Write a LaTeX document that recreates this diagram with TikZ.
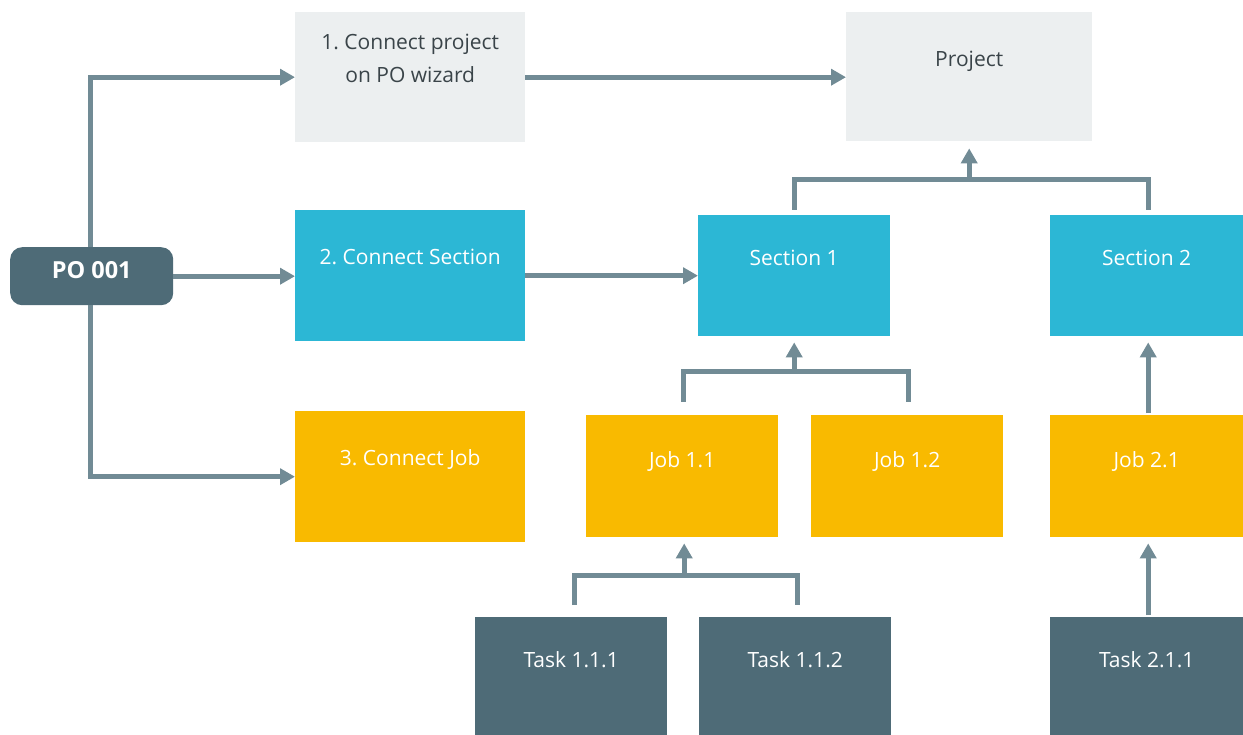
\documentclass[tikz,border=0pt]{standalone}
\usepackage{fontspec}
\setmainfont{Open Sans}
\usetikzlibrary{arrows.meta}
\frenchspacing
\definecolor{lightbox}{HTML}{ECEFF0}
\definecolor{cyanbox}{HTML}{2CB7D5}
\definecolor{yellowbox}{HTML}{F9BA00}
\definecolor{slatebox}{HTML}{4E6B77}
\definecolor{linec}{HTML}{718B95}
\definecolor{darktext}{HTML}{3A4449}
\begin{document}
\begin{tikzpicture}[x=1pt,y=-1pt,
  box/.style={anchor=north west, inner sep=0pt, align=center,
    font=\fontsize{21}{33}\selectfont\frenchspacing},
  graybox/.style={box, fill=lightbox, text=darktext},
  cyanb/.style={box, fill=cyanbox, text=white},
  yellowb/.style={box, fill=yellowbox, text=white},
  slateb/.style={box, fill=slatebox, text=white},
  conn/.style={draw=linec, line width=5pt},
  arr/.style={conn, -{Triangle[length=15pt,width=16pt]}},
]
\useasboundingbox (0,0) rectangle (1243,735);

% column 1
\node[graybox, minimum width=230pt, text height=70.5pt, text depth=59.5pt] (c1) at (295,12) {1. Connect project\\on PO wizard};
\node[cyanb, minimum width=230pt, text height=54.5pt, text depth=76.5pt] (c2) at (295,210) {2. Connect Section};
\node[yellowb, minimum width=230pt, text height=54.5pt, text depth=76.5pt] (c3) at (295,411) {3. Connect Job};

% PO
\node[anchor=north west, inner sep=0pt, fill=slatebox, text=white, rounded corners=12pt,
  minimum width=163pt, text height=31pt, text depth=27pt,
  font=\fontsize{23.5}{28}\selectfont\bfseries] (po) at (10,247) {PO 001};

% hierarchy
\node[graybox, minimum width=246pt, text height=54.5pt, text depth=74.5pt] (proj) at (846,12) {Project};
\node[cyanb, minimum width=192pt, text height=50.5pt, text depth=70.5pt] (s1) at (698,215) {Section 1};
\node[cyanb, minimum width=193pt, text height=50.5pt, text depth=70.5pt] (s2) at (1050,215) {Section 2};
\node[yellowb, minimum width=192pt, text height=52.5pt, text depth=69.5pt] (j11) at (586,415) {Job 1.1};
\node[yellowb, minimum width=192pt, text height=52.5pt, text depth=69.5pt] (j12) at (811,415) {Job 1.2};
\node[yellowb, minimum width=193pt, text height=52.5pt, text depth=69.5pt] (j21) at (1050,415) {Job 2.1};
\node[slateb, minimum width=192pt, text height=50.5pt, text depth=67.5pt] (t1) at (475,617) {Task 1.1.1};
\node[slateb, minimum width=192pt, text height=50.5pt, text depth=67.5pt] (t2) at (699,617) {Task 1.1.2};
\node[slateb, minimum width=193pt, text height=50.5pt, text depth=67.5pt] (t3) at (1050,617) {Task 2.1.1};

% PO connectors
\draw[arr] ([xshift=-1.5pt]po.north) |- (c1.west);
\draw[arr] (po.east) -- (po.east -| c2.west);
\draw[arr] ([xshift=-1.5pt]po.south) |- (c3.west);
\draw[arr] (c1.east) -- (c1.east -| proj.west);
\draw[arr] (c2.east) -- (c2.east -| s1.west);

% sections to project
\draw[conn] ([yshift=5pt]s1.north) |- ([xshift=1.5pt,yshift=35pt]s2.north) -- ([xshift=1.5pt,yshift=5pt]s2.north);
\draw[arr] ([yshift=35pt]s1.north -| proj.south) -- ([yshift=-7pt]proj.south);

% jobs to section 1
\draw[conn] ([xshift=1pt,yshift=13pt]j11.north) |- ([xshift=1pt,yshift=43pt]j12.north) -- ([xshift=1pt,yshift=13pt]j12.north);
\draw[arr] ([yshift=43pt]j11.north -| s1.south) -- ([yshift=-6pt]s1.south);
\draw[arr] ([xshift=1.5pt,yshift=2pt]j21.north) -- ([xshift=1.5pt,yshift=-6pt]s2.south);

% tasks to job 1.1
\draw[conn] ([xshift=3pt,yshift=12pt]t1.north) |- ([xshift=2pt,yshift=42pt]t2.north) -- ([xshift=2pt,yshift=12pt]t2.north);
\draw[arr] ([xshift=2pt,yshift=42pt]t1.north -| j11.south) -- ([xshift=2pt,yshift=-6pt]j11.south);
\draw[arr] ([xshift=1.5pt,yshift=2pt]t3.north) -- ([xshift=1.5pt,yshift=-6pt]j21.south);
\end{tikzpicture}
\end{document}
